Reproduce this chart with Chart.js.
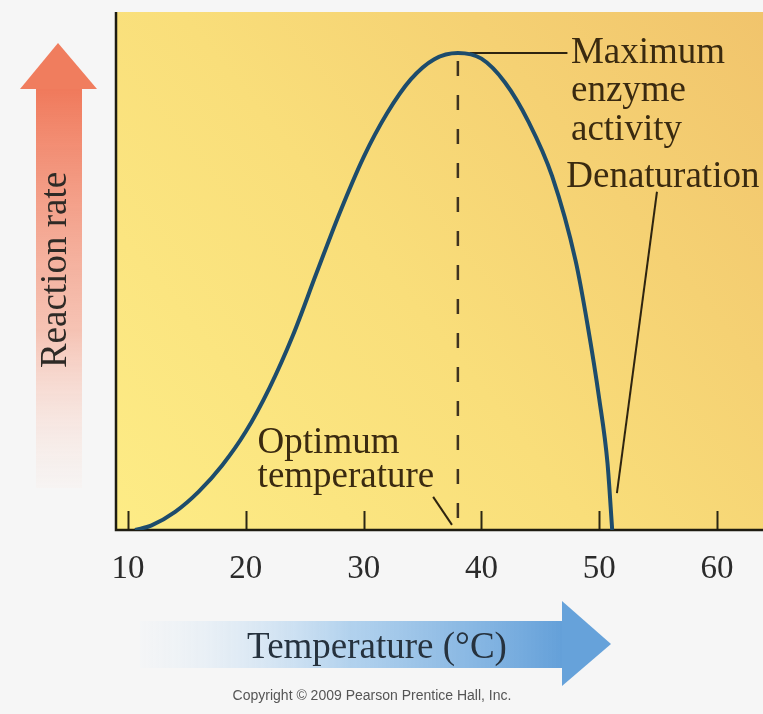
<!DOCTYPE html>
<html>
<head>
<meta charset="utf-8">
<script src="https://cdn.jsdelivr.net/npm/chart.js@4.4.1/dist/chart.umd.min.js"></script>
<style>
html, body { margin: 0; padding: 0; background: #f6f6f6; }
#wrap { position: relative; width: 763px; height: 714px; overflow: hidden; }
canvas { display: block; }
</style>
</head>
<body>
<div id="wrap"><canvas id="c" width="763" height="714"></canvas></div>
<script>
// reaction rate vs temperature
var temps = [10.6, 12, 14, 16, 18, 20, 22, 24, 26, 28, 30, 32, 34, 36, 38, 40, 42, 44, 46, 48, 49, 50, 50.7, 51.1];
var rates = [0, 0.9, 3.5, 7.4, 12.5, 19.0, 27.4, 37.6, 49.6, 61.4, 72.0, 80.5, 87.0, 90.9, 92.1, 91.0, 86.4, 78.8, 68.3, 51.9, 39.7, 25.3, 12.9, 0];
var tickValues = [10, 20, 30, 40, 50, 60];
var tickLabels = ['10', '20', '30', '40', '50', '60'];
var optimumTemp = 38.0;
var peakRate = 92.1;

var serif = '"Liberation Serif", "DejaVu Serif", serif';

var points = temps.map(function(t, i) { return { x: t, y: rates[i] }; });

var decor = {
    id: 'decor',
    beforeDraw: function(chart) {
        var ctx = chart.ctx, a = chart.chartArea;
        ctx.save();
        // yellow panel
        var g = ctx.createLinearGradient(a.left, a.bottom, a.right, a.top);
        g.addColorStop(0, '#fdec86');
        g.addColorStop(0.45, '#f9de7a');
        g.addColorStop(1, '#f1c46c');
        ctx.fillStyle = g;
        ctx.fillRect(a.left, a.top, a.right - a.left, a.bottom - a.top);

        // up arrow (reaction rate)
        var ga = ctx.createLinearGradient(0, 90, 0, 490);
        ga.addColorStop(0, '#f07a5c');
        ga.addColorStop(0.6, 'rgba(245,160,135,0.6)');
        ga.addColorStop(1, 'rgba(252,225,215,0.1)');
        ctx.fillStyle = ga;
        ctx.fillRect(36, 88, 46, 400);
        ctx.fillStyle = '#f07d5e';
        ctx.beginPath();
        ctx.moveTo(58, 43);
        ctx.lineTo(97, 89);
        ctx.lineTo(20, 89);
        ctx.closePath();
        ctx.fill();

        // right arrow (temperature)
        var gb = ctx.createLinearGradient(140, 0, 562, 0);
        gb.addColorStop(0, 'rgba(225,238,250,0.1)');
        gb.addColorStop(0.5, 'rgba(160,200,235,0.8)');
        gb.addColorStop(1, '#64a0d9');
        ctx.fillStyle = gb;
        ctx.fillRect(140, 621, 423, 47);
        ctx.fillStyle = '#66a2da';
        ctx.beginPath();
        ctx.moveTo(562, 601);
        ctx.lineTo(611, 644);
        ctx.lineTo(562, 686);
        ctx.closePath();
        ctx.fill();
        ctx.restore();
    },
    beforeDatasetsDraw: function(chart) {
        var ctx = chart.ctx, a = chart.chartArea;
        var x = chart.scales.x, y = chart.scales.y;
        ctx.save();
        // dashed line at optimum
        ctx.strokeStyle = '#3f3320';
        ctx.lineWidth = 2.5;
        ctx.setLineDash([15, 19]);
        ctx.beginPath();
        ctx.moveTo(x.getPixelForValue(optimumTemp), y.getPixelForValue(peakRate) + 8);
        ctx.lineTo(x.getPixelForValue(optimumTemp), a.bottom);
        ctx.stroke();
        ctx.setLineDash([]);

        // leader lines
        ctx.strokeStyle = '#2e2410';
        ctx.lineWidth = 2;
        var leaders = [
            [optimumTemp + 1, peakRate, 47.3, peakRate],
            [54.9, 65.3, 51.5, 7.1],
            [35.9, 6.4, 37.5, 1.0]
        ];
        leaders.forEach(function(l) {
            ctx.beginPath();
            ctx.moveTo(x.getPixelForValue(l[0]), y.getPixelForValue(l[1]));
            ctx.lineTo(x.getPixelForValue(l[2]), y.getPixelForValue(l[3]));
            ctx.stroke();
        });

        // inward ticks
        ctx.strokeStyle = '#2a2614';
        ctx.lineWidth = 2;
        tickValues.forEach(function(v) {
            var px = Math.round(x.getPixelForValue(v)) + 0.5;
            ctx.beginPath();
            ctx.moveTo(px, a.bottom);
            ctx.lineTo(px, a.bottom - 19);
            ctx.stroke();
        });

        // frame
        ctx.strokeStyle = '#1e1c12';
        ctx.lineWidth = 2.5;
        ctx.beginPath();
        ctx.moveTo(a.left, a.top);
        ctx.lineTo(a.left, a.bottom);
        ctx.lineTo(a.right, a.bottom);
        ctx.stroke();
        ctx.restore();
    },
    afterDraw: function(chart) {
        var ctx = chart.ctx, a = chart.chartArea;
        var x = chart.scales.x, y = chart.scales.y;
        ctx.save();
        // tick labels
        ctx.fillStyle = '#2b2b2b';
        ctx.font = '33px ' + serif;
        ctx.textAlign = 'center';
        ctx.textBaseline = 'alphabetic';
        tickValues.forEach(function(v, i) {
            ctx.fillText(tickLabels[i], x.getPixelForValue(v), a.bottom + 48);
        });

        // annotations
        ctx.fillStyle = '#3a2a10';
        ctx.font = '37px ' + serif;
        ctx.textAlign = 'left';
        var lx = x.getPixelForValue(47.6);
        ctx.fillText('Maximum', lx, 63);
        ctx.fillText('enzyme', lx, 101);
        ctx.fillText('activity', lx, 140);
        ctx.fillText('Denaturation', x.getPixelForValue(47.2), 187);
        var ox = x.getPixelForValue(21.0);
        ctx.fillText('Optimum', ox, 453);
        ctx.fillText('temperature', ox, 487);

        // axis titles
        ctx.fillStyle = '#2e2a26';
        ctx.save();
        ctx.translate(66, 270);
        ctx.rotate(-Math.PI / 2);
        ctx.textAlign = 'center';
        ctx.fillText('Reaction rate', 0, 0);
        ctx.restore();

        ctx.fillStyle = '#26323e';
        ctx.textAlign = 'center';
        ctx.fillText('Temperature (\u00B0C)', 377, 658);

        ctx.fillStyle = '#555555';
        ctx.font = '14px "Liberation Sans", Arial, sans-serif';
        ctx.fillText('Copyright \u00A9 2009 Pearson Prentice Hall, Inc.', 372, 700);
        ctx.restore();
    }
};

var chart = new Chart(document.getElementById('c').getContext('2d'), {
    type: 'line',
    data: {
        datasets: [{
            data: points,
            borderColor: '#1d4c6c',
            borderWidth: 4,
            pointRadius: 0,
            fill: false,
            cubicInterpolationMode: 'monotone'
        }]
    },
    options: {
        responsive: false,
        animation: false,
        devicePixelRatio: 1,
        layout: { padding: { left: 116, top: 12, right: 0, bottom: 184 } },
        plugins: { legend: { display: false }, tooltip: { enabled: false } },
        scales: {
            x: { type: 'linear', min: 8.98, max: 63.9, display: false },
            y: { min: 0, max: 100, display: false }
        }
    },
    plugins: [decor]
});
</script>
</body>
</html>
